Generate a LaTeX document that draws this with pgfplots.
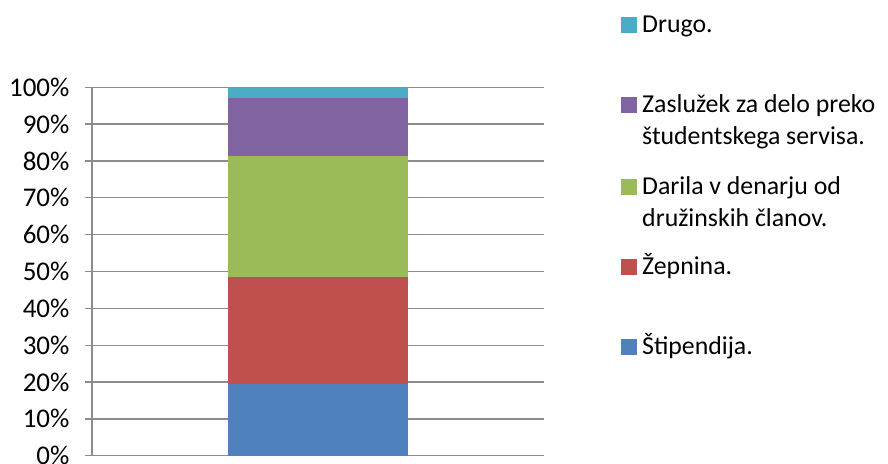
\documentclass[border=0pt]{standalone}
\usepackage{fontspec}
\setmainfont{Carlito}
\usepackage{pgfplots}
\pgfplotsset{compat=1.18}
\definecolor{cBlue}{HTML}{4F81BD}
\definecolor{cRed}{HTML}{C0504D}
\definecolor{cGreen}{HTML}{9BBB59}
\definecolor{cPurple}{HTML}{8064A2}
\definecolor{cCyan}{HTML}{4BACC6}
\definecolor{cGrid}{HTML}{8C8C8C}
\newcommand{\lf}{\fontsize{25.8}{31}\selectfont}
\newcommand{\tf}{\fontsize{27}{31}\selectfont}
\begin{document}
\begin{tikzpicture}[x=1pt,y=1pt]
\useasboundingbox (0,0) rectangle (888,463);
\begin{axis}[
  at={(92pt,7.3pt)}, anchor=south west,
  scale only axis, width=452pt, height=368.4pt,
  ybar stacked, bar width=0.4,
  xmin=-0.5, xmax=0.5, ymin=0, ymax=100,
  xtick=\empty,
  ytick={0,10,...,100},
  yticklabel={\pgfmathprintnumber{\tick}\%},
  /pgf/number format/assume math mode=true,
  ymajorgrids, grid style={cGrid, line width=1.3pt},
  axis x line*=bottom, axis y line*=left,
  axis line style={cGrid, line width=1.3pt, -},
  y tick style={cGrid, line width=1.3pt},
  major tick length=7pt, tick align=outside,
  yticklabel style={font=\tf, text=black, xshift=-12pt},
  clip=false,
]
\addplot[fill=cBlue, draw=none] coordinates {(0,19.4)};
\addplot[fill=cRed, draw=none] coordinates {(0,29.2)};
\addplot[fill=cGreen, draw=none] coordinates {(0,32.8)};
\addplot[fill=cPurple, draw=none] coordinates {(0,15.8)};
\addplot[fill=cCyan, draw=none] coordinates {(0,2.8)};
\end{axis}
% legend
\fill[cCyan]   (621,430) rectangle (637,445.5);
\node[anchor=base west, inner sep=0] at (642,430) {\lf Drugo.};
\fill[cPurple] (621,350) rectangle (637,365.5);
\node[anchor=base west, inner sep=0] at (642,350) {\lf Zaslužek za delo preko};
\node[anchor=base west, inner sep=0] at (642,318) {\lf študentskega servisa.};
\fill[cGreen]  (621,268) rectangle (637,283.5);
\node[anchor=base west, inner sep=0] at (642,268) {\lf Darila v denarju od};
\node[anchor=base west, inner sep=0] at (642,236) {\lf družinskih članov.};
\fill[cRed]    (621,188) rectangle (637,203.5);
\node[anchor=base west, inner sep=0] at (642,188) {\lf Žepnina.};
\fill[cBlue]   (621,108) rectangle (637,123.5);
\node[anchor=base west, inner sep=0] at (642,108) {\lf Štipendija.};
\end{tikzpicture}
\end{document}
